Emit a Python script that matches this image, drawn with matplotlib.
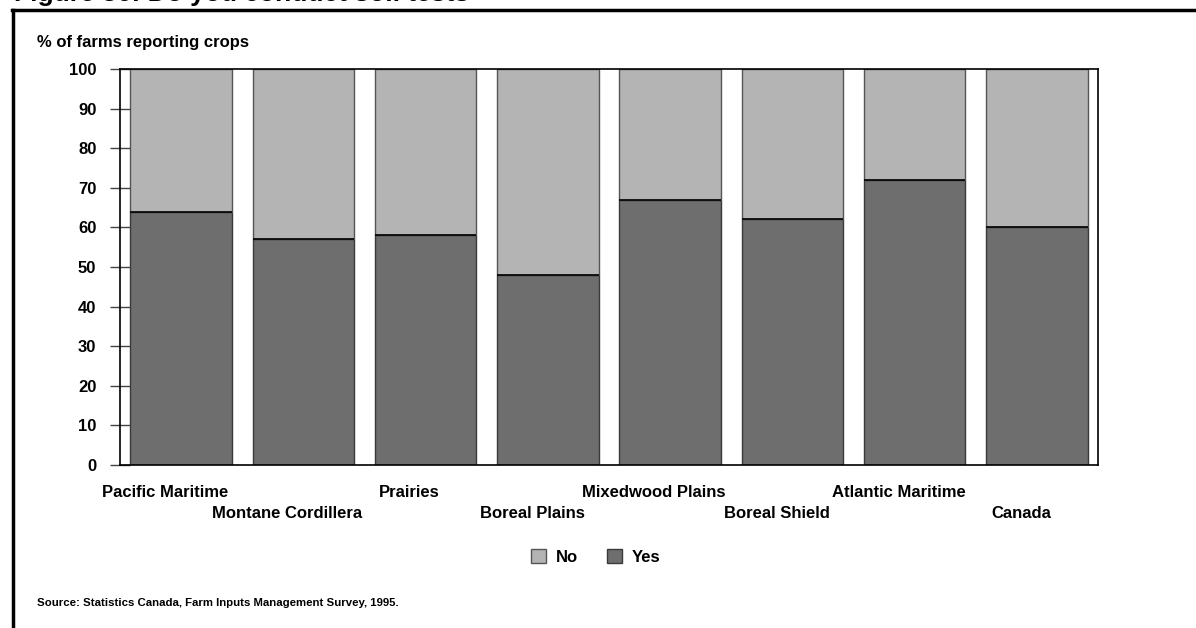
import matplotlib.pyplot as plt
import numpy as np

# data
regions = ['Pacific Maritime', 'Montane Cordillera', 'Prairies', 'Boreal Plains',
           'Mixedwood Plains', 'Boreal Shield', 'Atlantic Maritime', 'Canada']
yes = [64, 57, 58, 48, 67, 62, 72, 60]
no = [100 - v for v in yes]
yticks = list(range(0, 101, 10))

plt.rcParams['font.family'] = ['Liberation Sans', 'DejaVu Sans']
plt.rcParams['font.weight'] = 'bold'

fig = plt.figure(figsize=(11.96, 6.28), dpi=100)
ax = fig.add_axes([120 / 1196, 1 - 465 / 628, 978 / 1196, 396 / 628])

x = np.arange(len(regions))
ax.bar(x, yes, width=0.83, color='#6e6e6e', edgecolor='#3a3a3a', linewidth=1, label='Yes')
ax.bar(x, no, width=0.83, bottom=yes, color='#b4b4b4', edgecolor='#555555', linewidth=1, label='No')
# black boundary between segments
ax.hlines(yes, x - 0.415, x + 0.415, color='black', linewidth=1.2)

ax.set_xlim(-0.5, len(regions) - 0.5)
ax.set_ylim(0, 100)
ax.set_yticks(yticks)
ax.set_yticklabels([str(t) for t in yticks], fontsize=12, fontweight='bold')
ax.tick_params(axis='y', direction='inout', length=14, width=1, color='#444444', pad=10)
ax.set_xticks([])
for s in ax.spines.values():
    s.set_color('black')
    s.set_linewidth(1.2)

# staggered category labels
for i, name in enumerate(regions):
    yl = -6.9 if i % 2 == 0 else -12.2
    ax.text(i - 0.13, yl, name, ha='center', va='center', fontsize=12, fontweight='bold')

fig.text(37 / 1196, 1 - 42 / 628, '% of farms reporting crops', ha='left', va='center',
         fontsize=12, fontweight='bold')

h, l = ax.get_legend_handles_labels()
fig.legend(h[::-1], l[::-1], loc='center', bbox_to_anchor=(0.498, 1 - 557 / 628), ncol=2,
           frameon=False, fontsize=12, handlelength=0.9, handleheight=0.9,
           columnspacing=1.7, handletextpad=0.6)

fig.text(37 / 1196, 1 - 603 / 628, 'Source: Statistics Canada, Farm Inputs Management Survey, 1995.',
         ha='left', va='center', fontsize=8.2, fontweight='bold')

# cut-off figure title at the very top
fig.text(0.012, 1 - 1 / 628, 'Figure 36: Do you conduct soil tests', ha='left', va='baseline',
         fontsize=19, fontweight='bold')

# page frame lines
fig.add_artist(plt.Line2D([12 / 1196, 1], [1 - 9.5 / 628] * 2, color='black', linewidth=2.5,
                          transform=fig.transFigure))
fig.add_artist(plt.Line2D([13 / 1196] * 2, [0, 1 - 9.5 / 628], color='black', linewidth=2.5,
                          transform=fig.transFigure))

fig.savefig('out.png', dpi=100)
